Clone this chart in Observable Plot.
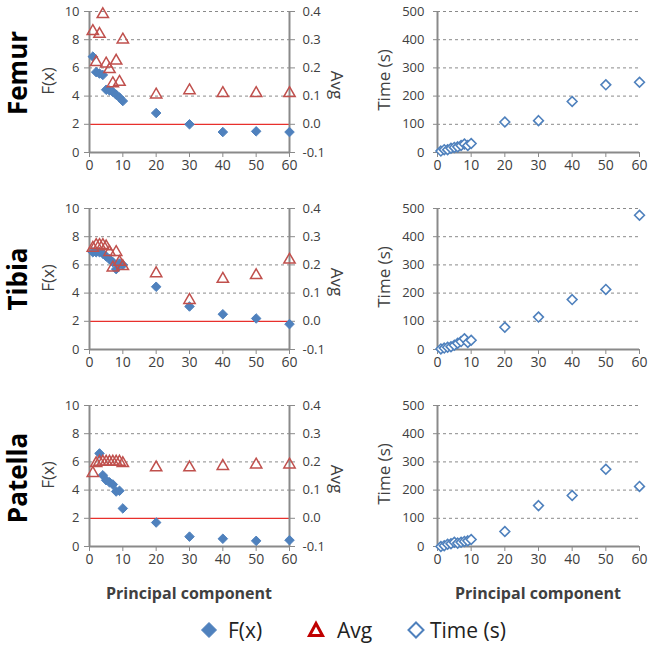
<!DOCTYPE html>
<html>
<head>
<meta charset="utf-8">
<script src="https://cdn.jsdelivr.net/npm/d3@7"></script>
<script src="https://cdn.jsdelivr.net/npm/@observablehq/plot@0.6"></script>
<style>
  html, body { margin: 0; padding: 0; background: #fff; }
  #root { position: relative; width: 654px; height: 651px; font-family: "Open Sans", sans-serif; color: #404040; }
  .panel { position: absolute; }
  .vlab { position: absolute; white-space: nowrap; transform: translate(-50%, -50%) rotate(-90deg); line-height: 1; }
  .vlab2 { position: absolute; white-space: nowrap; transform: translate(-50%, -50%) rotate(90deg); line-height: 1; }
  .hlab { position: absolute; white-space: nowrap; transform: translate(-50%, -50%); line-height: 1; }
</style>
</head>
<body>
<div id="root"></div>
<script>
// ---- data ----
const pcs = [1, 2, 3, 4, 5, 6, 7, 8, 9, 10, 20, 30, 40, 50, 60];
const bones = ["Femur", "Tibia", "Patella"];

const femurF   = [6.8, 5.7, 5.6, 5.5, 4.45, 4.4, 4.3, 4.1, 3.9, 3.65, 2.8, 2.0, 1.45, 1.5, 1.45];
const tibiaF   = [6.9, 6.9, 6.9, 6.8, 6.6, 6.4, 6.2, 5.7, 6.1, 6.0, 4.45, 3.05, 2.5, 2.2, 1.8];
const patellaF = [null, null, 6.6, 5.05, 4.7, 4.55, 4.4, 3.9, 3.95, 2.7, 1.7, 0.7, 0.55, 0.4, 0.45];

const femurAvg   = [0.33, 0.22, 0.32, 0.39, 0.215, 0.195, 0.145, 0.225, 0.15, 0.30, 0.105, 0.12, 0.11, 0.11, 0.11];
const tibiaAvg   = [0.26, 0.27, 0.27, 0.27, 0.265, 0.245, 0.19, 0.245, 0.21, 0.195, 0.17, 0.075, 0.15, 0.163, 0.218];
const patellaAvg = [0.16, 0.195, 0.2, 0.2, 0.2, 0.2, 0.2, 0.2, 0.2, 0.195, 0.18, 0.18, 0.185, 0.19, 0.19];

const femurTime   = [5, 10, 10, 15, 18, 20, 25, 30, 25, 32, 108, 113, 181, 240, 249];
const tibiaTime   = [2, 5, 8, 10, 15, 22, 28, 38, 25, 33, 79, 115, 177, 213, 476];
const patellaTime = [0, 3, 8, 10, 15, 12, 15, 18, 20, 25, 53, 145, 181, 274, 213];

const xTicks = [0, 10, 20, 30, 40, 50, 60];
const fTicks = [0, 2, 4, 6, 8, 10];
const avgTickLabels = ["-0.1", "0.0", "0.1", "0.2", "0.3", "0.4"];
const timeTicks = [0, 100, 200, 300, 400, 500];
const avgThreshold = 0.0;

// ---- styling ----
const BLUE = "#4f81bd";
const RED = "#c0504d";
const LINE_RED = "#e8302c";
const GRAY = "#8a8a8a";
const TXT = "#404040";

const avgMin = -0.1, avgMax = 0.4;
const toF = a => (a - avgMin) / (avgMax - avgMin) * 10;

const Fs = [femurF, tibiaF, patellaF];
const Avgs = [femurAvg, tibiaAvg, patellaAvg];
const Times = [femurTime, tibiaTime, patellaTime];
const rowTop = [0, 197, 394];

const root = document.getElementById("root");

function leftPanel(r) {
  const fData = pcs.map((pc, i) => ({pc, v: Fs[r][i]})).filter(d => d.v != null);
  const aData = pcs.map((pc, i) => ({pc, v: Avgs[r][i]})).filter(d => d.v != null);
  return Plot.plot({
    width: 345, height: 178,
    marginLeft: 89, marginRight: 56, marginTop: 11, marginBottom: 26,
    style: {fontFamily: "Open Sans, sans-serif", color: TXT, background: "transparent", overflow: "visible"},
    x: {domain: [0, 60]},
    y: {domain: [0, 10]},
    marks: [
      Plot.gridY([4, 6, 8, 10], {stroke: GRAY, strokeOpacity: 1, strokeDasharray: "3,3"}),
      Plot.ruleY([avgThreshold], {y: d => toF(d), x1: 0, x2: 60, stroke: LINE_RED, strokeWidth: 1.2}),
      Plot.ruleX([0], {stroke: GRAY, strokeWidth: 2}),
      Plot.ruleX([60], {stroke: GRAY, strokeWidth: 2}),
      Plot.ruleY([0], {stroke: GRAY, strokeWidth: 2}),
      Plot.axisY({ticks: fTicks, tickSize: 5, tickPadding: 5, stroke: GRAY, fill: TXT, fontSize: 13, label: null}),
      Plot.axisY({anchor: "right", ticks: fTicks, tickSize: 5, tickPadding: 8, stroke: GRAY, fill: TXT, fontSize: 13, label: null,
                  tickFormat: d => avgTickLabels[fTicks.indexOf(d)]}),
      Plot.axisX({ticks: xTicks, tickSize: 5, tickPadding: 3, stroke: GRAY, fill: TXT, fontSize: 14, label: null}),
      Plot.dot(fData, {x: "pc", y: "v", symbol: "diamond2", r: 4.3, fill: BLUE, stroke: BLUE, strokeWidth: 1}),
      Plot.dot(aData, {x: "pc", y: d => toF(d.v), symbol: "triangle2", r: 5.4, fill: "none", stroke: RED, strokeWidth: 1.5})
    ]
  });
}

function rightPanel(r) {
  const tData = pcs.map((pc, i) => ({pc, v: Times[r][i]}));
  return Plot.plot({
    width: 309, height: 178,
    marginLeft: 92, marginRight: 15, marginTop: 11, marginBottom: 26,
    style: {fontFamily: "Open Sans, sans-serif", color: TXT, background: "transparent", overflow: "visible"},
    x: {domain: [0, 60]},
    y: {domain: [0, 500]},
    marks: [
      Plot.gridY([100, 200, 300, 400, 500], {stroke: GRAY, strokeOpacity: 1, strokeDasharray: "3,3"}),
      Plot.ruleX([0], {stroke: GRAY, strokeWidth: 2}),
      Plot.ruleY([0], {stroke: GRAY, strokeWidth: 2}),
      Plot.axisY({ticks: timeTicks, tickSize: 4, tickPadding: 9, stroke: GRAY, fill: TXT, fontSize: 13, label: null}),
      Plot.axisX({ticks: xTicks, tickSize: 5, tickPadding: 3, stroke: GRAY, fill: TXT, fontSize: 14, label: null}),
      Plot.dot(tData, {x: "pc", y: "v", symbol: "diamond2", r: 4.4, fill: "white", stroke: BLUE, strokeWidth: 1.6})
    ]
  });
}

function place(el, left, top) {
  el.classList.add("panel");
  el.style.left = left + "px";
  el.style.top = top + "px";
  root.appendChild(el);
}

function label(cls, text, cx, cy, css) {
  const d = document.createElement("div");
  d.className = cls;
  d.textContent = text;
  d.style.left = cx + "px";
  d.style.top = cy + "px";
  Object.assign(d.style, css || {});
  root.appendChild(d);
}

const boneCenters = [73, 279, 478];
for (let r = 0; r < 3; r++) {
  place(leftPanel(r), 0, rowTop[r]);
  label("vlab2", "Avg", 337, rowTop[r] + 85, {fontSize: "17px", color: TXT});
  place(rightPanel(r), 345, rowTop[r]);
  label("vlab", bones[r], 17, boneCenters[r], {fontSize: "26px", fontWeight: "bold", color: "#000"});
  label("vlab", "F(x)", 47, rowTop[r] + 81, {fontSize: "17px", color: TXT});
  label("vlab", "Time (s)", 383, rowTop[r] + 80, {fontSize: "17px", color: TXT});
}
label("hlab", "Principal component", 189, 593, {fontSize: "16px", fontWeight: "bold", color: TXT});
label("hlab", "Principal component", 538, 593, {fontSize: "16px", fontWeight: "bold", color: TXT});

// ---- legend ----
const legendItems = [
  {name: "F(x)", cx: 209, tx: 228, shape: "diamond", fill: BLUE, stroke: BLUE, sw: 1},
  {name: "Avg", cx: 316, tx: 337, shape: "triangle", fill: "none", stroke: "#c00000", sw: 3},
  {name: "Time (s)", cx: 416, tx: 430, shape: "diamond", fill: "white", stroke: BLUE, sw: 2}
];
const ns = "http://www.w3.org/2000/svg";
for (const it of legendItems) {
  const svg = document.createElementNS(ns, "svg");
  svg.setAttribute("width", 24); svg.setAttribute("height", 24);
  svg.style.position = "absolute";
  svg.style.left = (it.cx - 12) + "px";
  svg.style.top = (630 - 12) + "px";
  const p = document.createElementNS(ns, "path");
  p.setAttribute("d", it.shape === "diamond" ? "M12,4.5L19.5,12L12,19.5L4.5,12Z" : "M12,5.5L18.5,17.5L5.5,17.5Z");
  p.setAttribute("fill", it.fill);
  p.setAttribute("stroke", it.stroke);
  p.setAttribute("stroke-width", it.sw);
  svg.appendChild(p);
  root.appendChild(svg);
  const t = document.createElement("div");
  t.textContent = it.name;
  t.style.position = "absolute";
  t.style.left = it.tx + "px";
  t.style.top = "630px";
  t.style.transform = "translateY(-50%)";
  t.style.fontSize = "21px";
  t.style.lineHeight = "1";
  t.style.whiteSpace = "nowrap";
  t.style.color = "#222";
  root.appendChild(t);
}
</script>
</body>
</html>
